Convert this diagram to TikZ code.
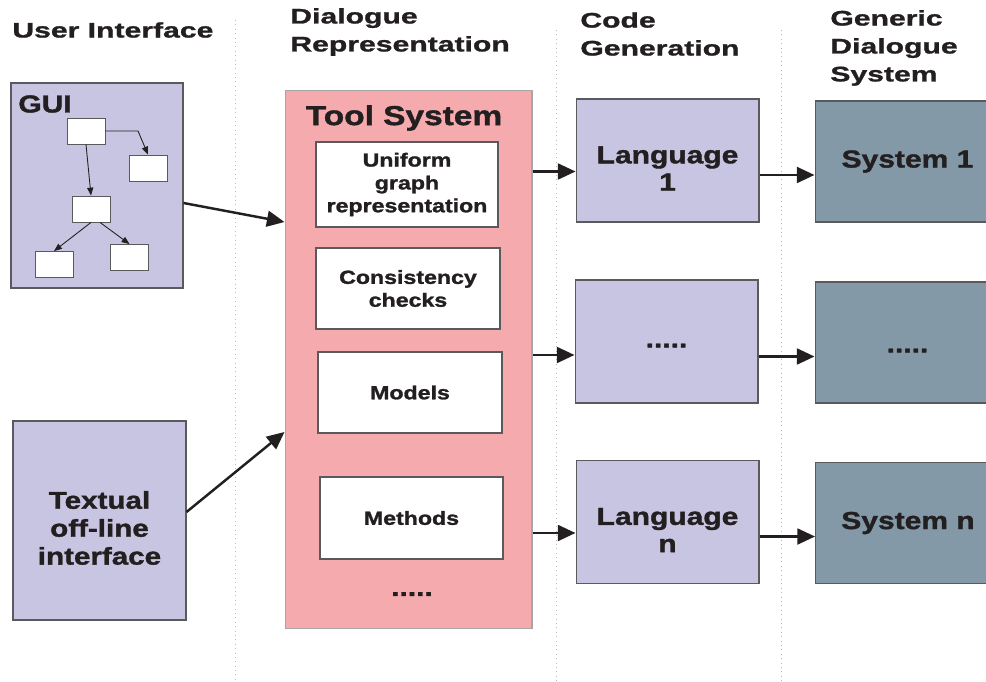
\documentclass[tikz,border=0pt]{standalone}
\usepackage{fontspec}
\newfontfamily\boxfont[FakeStretch=1.22,FakeBold=1.4]{Liberation Sans Bold}
\newfontfamily\headfont[FakeStretch=1.43,FakeBold=1.2]{Liberation Sans Bold}
\usetikzlibrary{arrows.meta, positioning}

\definecolor{ink}{HTML}{231F20}
\definecolor{edge}{HTML}{5A5A5E}
\definecolor{uilav}{HTML}{C8C5E2}
\definecolor{toolpink}{HTML}{F5AAAD}
\definecolor{sysgray}{HTML}{8399A7}

\tikzset{
  head/.style={anchor=west, align=left, text=ink, inner sep=0pt,
    font=\headfont\fontsize{12}{15.9}\selectfont},
  panel/.style={draw=edge, line width=0.6pt, inner sep=0pt, align=center, text=ink,
    font=\boxfont\fontsize{14}{15.5}\selectfont},
  tag/.style={align=center, text=ink, inner sep=0pt, font=\boxfont\fontsize{14}{15.5}\selectfont},
  part/.style={panel, fill=white, minimum width=3.66cm, minimum height=1.64cm,
    font=\boxfont\fontsize{10.8}{13}\selectfont},
  lang/.style={panel, fill=uilav, minimum width=3.66cm, minimum height=2.46cm},
  sys/.style={panel, fill=sysgray, minimum width=3.7cm, minimum height=2.42cm},
  mini/.style={draw=edge, fill=white, line width=0.5pt, minimum width=0.76cm, minimum height=0.52cm},
  thin/.style={-{Triangle[length=4.5pt,width=3.5pt]}, line width=0.5pt, ink},
  flow/.style={-{Triangle[length=10pt,width=9pt]}, line width=1.4pt, ink},
  divider/.style={gray!55, dotted, line width=0.5pt}
}

\begin{document}
\begin{tikzpicture}[x=0.02cm, y=-0.02cm]
  \useasboundingbox (0,0) rectangle (986,682);
  \clip (0,0) rectangle (986,682);

  % column dividers
  \draw[divider] (235,20) -- (235,682);
  \draw[divider] (556,30) -- (556,682);
  \draw[divider] (781,30) -- (781,682);

  % column titles
  \node[head] (hui) at (12,30) {User Interface};
  \node[head] (hdr) at (290,32) {Dialogue\\Representation};
  \node[head] (hcg) at (580,34) {Code\\Generation};
  \node[head] (hgd) at (830,48) {Generic\\Dialogue\\System};

  % user interfaces
  \node[panel, fill=uilav, minimum width=3.44cm, minimum height=4.10cm] (gui) at (97,185.5) {};
  \node[tag, anchor=west] (guil) at (18,104) {GUI};
  \node[mini] (g1) at (86,131) {};
  \node[mini] (g2) at (148,168) {};
  \node[mini] (g3) at (91,209) {};
  \node[mini] (g4) at (54,264.5) {};
  \node[mini] (g5) at (129.5,257.5) {};
  \draw[thin] (g1.east) -- ([xshift=-0.2cm]g2.north |- g1.east) -- (g2.north);
  \draw[thin] (g1.south) -- (g3.north);
  \draw[thin] (g3.south) -- (g4.north);
  \draw[thin] ([xshift=0.18cm]g3.south) -- (g5.north);

  \node[panel, fill=uilav, minimum width=3.46cm, minimum height=3.98cm] (txt) at (99.5,520.5) {};
  \node[tag, font=\boxfont\fontsize{13.8}{15.9}\selectfont] (txtl) at ([yshift=-0.15cm]txt.center)
        {Textual\\off-line\\interface};

  % tool system
  \node[panel, draw=gray!70, fill=toolpink, minimum width=4.94cm, minimum height=10.78cm] (tool) at (408.5,359.5) {};
  \node[tag, font=\boxfont\fontsize{15.6}{17}\selectfont] (tooll) at (404,118) {Tool System};
  \node[part, minimum width=3.64cm, minimum height=1.70cm] (uni) at (407,184.5) {Uniform\\graph\\representation};
  \node[part, minimum width=3.68cm, minimum height=1.62cm] (cons) at (408,288.5) {Consistency\\checks};
  \node[part, minimum width=3.68cm, minimum height=1.62cm] (mod) at (410,392.5) {\raisebox{-5pt}{Models}};
  \node[part] (meth) at (411.5,518) {Methods};
  \node[tag] (more) at (412,594) {.....};

  % code generation
  \node[lang] (lang1) at (667.5,160.5) {};
  \node[lang] (langm) at (666.5,341.5) {};
  \node[lang] (langn) at (667.5,522) {};
  \node[tag] (lang1l) at ([yshift=-0.16cm]lang1.center) {Language\\1};
  \node[tag] (langml) at ([yshift=-0.08cm]langm.center) {.....};
  \node[tag] (langnl) at ([yshift=-0.16cm]langn.center) {Language\\n};

  % generated systems
  \node[sys] (sys1) at (907.5,161.5) {System 1};
  \node[sys] (sysm) at (907.5,342.5) {};
  \node[sys] (sysn) at (908,523) {System n};
  \node[tag] (sysml) at ([yshift=-0.16cm]sysm.center) {.....};

  \draw[flow] ([yshift=-0.35cm]gui.east) -- ([yshift=2.75cm]tool.west);
  \draw[flow] ([yshift=0.17cm]txt.east) -- ([yshift=-1.45cm]tool.west);

  \draw[flow] ([yshift=-0.22cm]lang1.west -| tool.east) -- ([yshift=-0.22cm]lang1.west);
  \draw[flow] ([yshift=-0.27cm]langm.west -| tool.east) -- ([yshift=-0.27cm]langm.west);
  \draw[flow] ([yshift=-0.22cm]langn.west -| tool.east) -- ([yshift=-0.22cm]langn.west);

  \draw[flow] ([yshift=-0.27cm]sys1.west -| lang1.east) -- ([yshift=-0.27cm]sys1.west);
  \draw[flow] ([yshift=-0.28cm]sysm.west -| langm.east) -- ([yshift=-0.28cm]sysm.west);
  \draw[flow] ([yshift=-0.27cm]sysn.west -| langn.east) -- ([yshift=-0.27cm]sysn.west);
\end{tikzpicture}
\end{document}
